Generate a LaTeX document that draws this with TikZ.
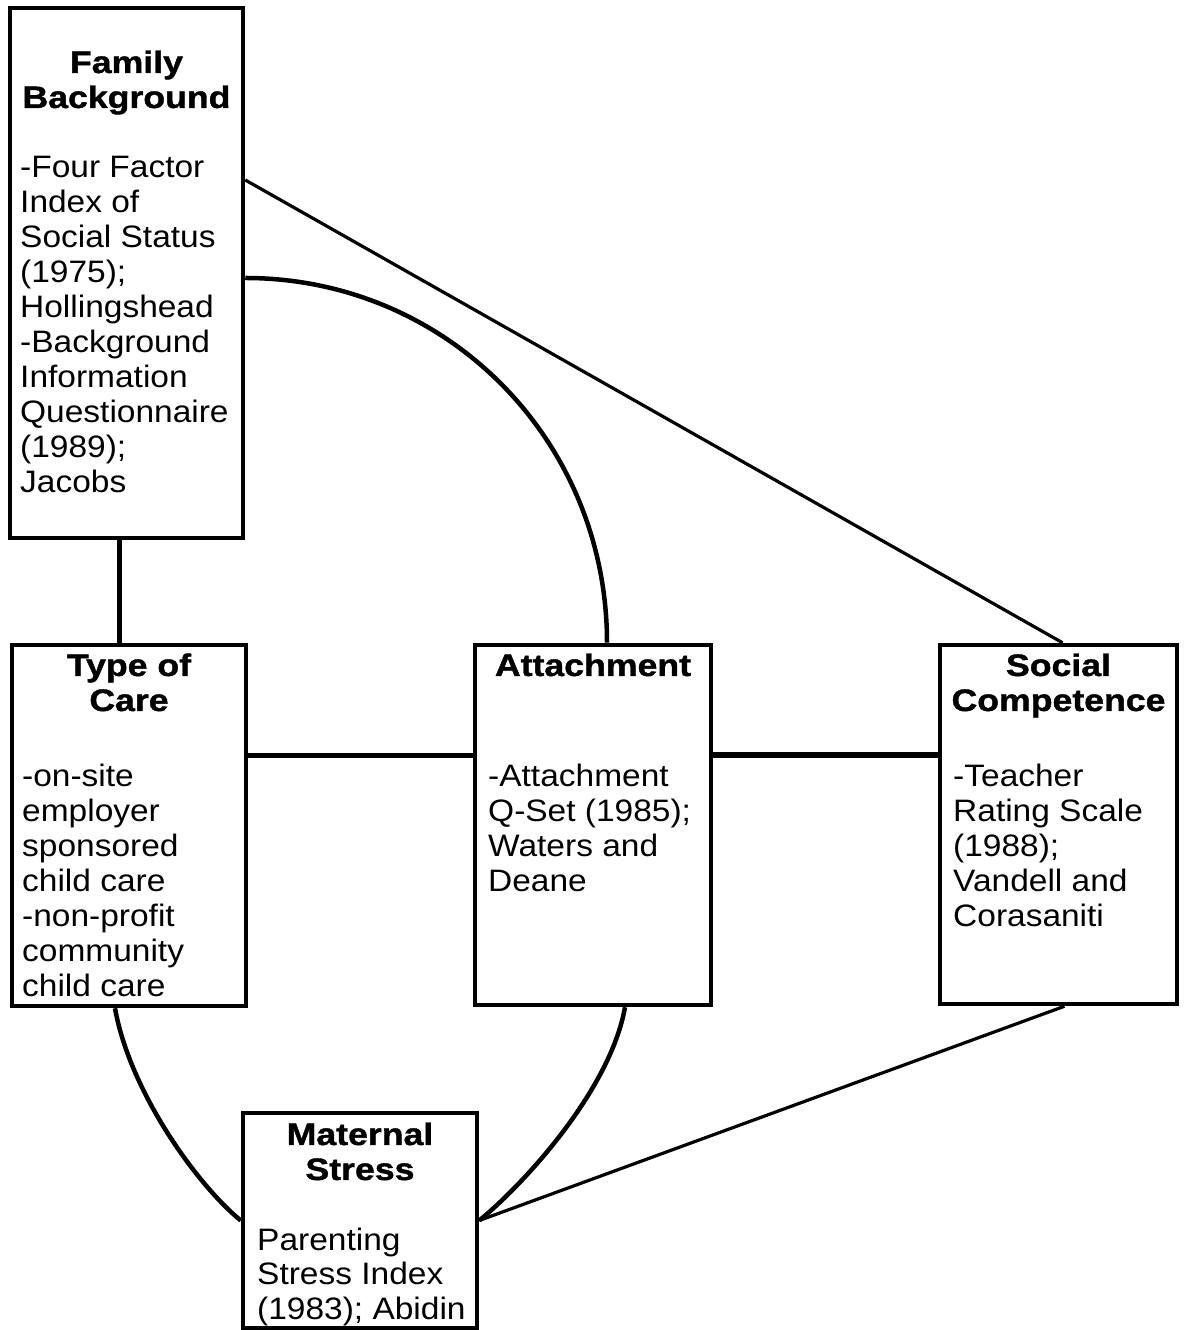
\documentclass[tikz,border=0pt]{standalone}
\usepackage{fontspec}
\setmainfont{Liberation Sans}
\newfontfamily\bodyf[FakeStretch=1.08]{Liberation Sans}
\newfontfamily\headf[FakeStretch=1.15,BoldFeatures={FakeBold=1.3}]{Liberation Sans}
\usetikzlibrary{calc}
\tikzset{
  box/.style={draw, line width=4.5pt, inner sep=0pt},
  headtxt/.style={font=\headf\bfseries\fontsize{31}{35}\selectfont, align=center, inner sep=0pt, anchor=base},
  bodytxt/.style={font=\bodyf\fontsize{31}{35}\selectfont, align=left, inner sep=0pt, anchor=base west},
  thick link/.style={line width=5.5pt},
  curve link/.style={line width=4.5pt},
  thin link/.style={line width=3.2pt},
}
\begin{document}
\begin{tikzpicture}[x=1pt,y=1pt]
\useasboundingbox (0,0) rectangle (1183,1330);
% boxes
\node[box, minimum width=233pt, minimum height=530pt] (fam) at (126.5,1057) {};
\node[box, minimum width=234pt, minimum height=361pt] (toc) at (129,504.5) {};
\node[box, minimum width=236pt, minimum height=360pt] (att) at (593,505) {};
\node[box, minimum width=237pt, minimum height=359pt] (soc) at (1058.5,505.5) {};
\node[box, minimum width=234pt, minimum height=215pt] (mat) at (360,109.5) {};
% texts (anchor base = baseline of the last line)
\node[headtxt] (famh) at (126.5,1222) {Family\\Background};
\node[bodytxt] (famb) at (20,837) {-Four Factor\\Index of\\Social Status\\(1975);\\Hollingshead\\-Background\\Information\\Questionnaire\\(1989);\\Jacobs};
\node[headtxt] (toch) at (129,619) {Type of\\Care};
\node[bodytxt] (tocb) at (22,333) {-on-site\\employer\\sponsored\\child care\\-non-profit\\community\\child care};
\node[headtxt] (atth) at (593,654) {Attachment};
\node[bodytxt] (attb) at (488,438) {-Attachment\\Q-Set (1985);\\Waters and\\Deane};
\node[headtxt] (soch) at (1058.5,619) {Social\\Competence};
\node[bodytxt] (socb) at (953,403) {-Teacher\\Rating Scale\\(1988);\\Vandell and\\Corasaniti};
\node[headtxt] (math) at (360,150) {Maternal\\Stress};
\node[bodytxt] (matb) at (257,10) {Parenting\\Stress Index\\(1983); Abidin};
% anchor points of connectors
\coordinate (fs) at ([xshift=-7pt]fam.south);
\coordinate (fa) at ([yshift=-5pt]fam.east);
\coordinate (fc) at ([yshift=93pt]fam.east);
\coordinate (an) at ([xshift=14pt]att.north);
\coordinate (sn) at ([xshift=4pt]soc.north);
\coordinate (te) at ([yshift=70pt]toc.east);
\coordinate (ae) at ([yshift=70pt]att.east);
\coordinate (ts) at ([xshift=-14pt]toc.south);
\coordinate (as) at ([xshift=32pt]att.south);
\coordinate (ss) at ([xshift=6pt]soc.south);
% connectors
\draw[thick link] (fs) -- (fs |- toc.north);
\draw[thick link] (te) -- (te -| att.west);
\draw[thick link] (ae) -- (ae -| soc.west);
\draw[thin link] (fc) -- (sn);
\draw[curve link] (fa) .. controls ($(fa)+(201pt,0pt)$) and ($(an)+(0pt,203pt)$) .. (an);
\draw[curve link] (ts) .. controls ($(ts)+(15pt,-84pt)$) and ($(mat.west)+(-43pt,35pt)$) .. (mat.west);
\draw[curve link] (as) .. controls ($(as)+(-15pt,-84pt)$) and ($(mat.east)+(43pt,35pt)$) .. (mat.east);
\draw[thin link] (ss) -- (mat.east);
\end{tikzpicture}
\end{document}
